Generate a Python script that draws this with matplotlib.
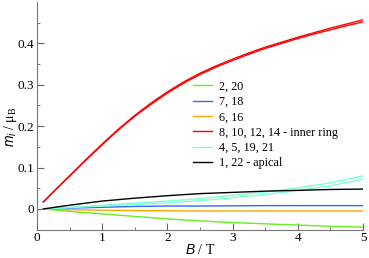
import numpy as np
import matplotlib
matplotlib.use("Agg")
import matplotlib.pyplot as plt

plt.rcParams['font.family'] = ['Liberation Serif', 'DejaVu Serif']
plt.rcParams['mathtext.fontset'] = 'custom'
plt.rcParams['mathtext.rm'] = 'Liberation Serif'
plt.rcParams['mathtext.it'] = 'Liberation Sans:italic'

# magnetic field B / T
B = [0.1, 0.5, 1.0, 1.5, 2.0, 2.5, 3.0, 3.5, 4.0, 4.5, 5.0]
B_fine = [0.1, 0.25, 0.5, 0.75, 1.0, 1.25, 1.5, 1.75, 2.0, 2.25, 2.5,
          2.75, 3.0, 3.25, 3.5, 3.75, 4.0, 4.25, 4.5, 4.75, 5.0]

# local moments m_i / mu_B
m_2_20 = [0.0, -0.006, -0.012, -0.018, -0.024, -0.029, -0.033, -0.036, -0.039, -0.042, -0.044]
m_7_18 = [0.0, 0.002, 0.004, 0.006, 0.007, 0.007, 0.0075, 0.008, 0.008, 0.008, 0.008]
m_6_16 = [0.0, -0.002, -0.003, -0.004, -0.0045, -0.005, -0.005, -0.005, -0.005, -0.005, -0.005]
m_4_5_a = [0.0, 0.004, 0.009, 0.014, 0.019, 0.025, 0.033, 0.041, 0.051, 0.063, 0.080]
m_4_5_b = [0.0, 0.003, 0.007, 0.011, 0.015, 0.020, 0.027, 0.035, 0.044, 0.056, 0.072]
m_apical = [0.0, 0.009, 0.019, 0.026, 0.032, 0.037, 0.040, 0.043, 0.045, 0.047, 0.048]
m_ring_a = [0.017, 0.041, 0.080, 0.119, 0.157, 0.193, 0.226, 0.256, 0.283, 0.307,
            0.328, 0.346, 0.362, 0.377, 0.391, 0.403, 0.415, 0.426, 0.437, 0.447, 0.457]
m_ring_b = [0.017, 0.041, 0.079, 0.118, 0.155, 0.191, 0.224, 0.253, 0.280, 0.304,
            0.325, 0.343, 0.359, 0.374, 0.388, 0.400, 0.412, 0.423, 0.433, 0.443, 0.452]

fig = plt.figure(figsize=(3.69, 2.58), dpi=100)
ax = fig.add_axes([0.1, 0.11, 0.884, 0.882])

ax.plot(B, m_2_20, color='#66ee22', lw=1, label='2, 20')
ax.plot(B, m_7_18, color='#3366ff', lw=1, label='7, 18')
ax.plot(B, m_6_16, color='#ffa500', lw=1, label='6, 16')
ax.plot(B_fine, m_ring_a, color='#ff0000', lw=1, label='8, 10, 12, 14 - inner ring')
ax.plot(B_fine, m_ring_b, color='#ff0000', lw=1)
ax.plot(B, m_4_5_a, color='#7fffd4', lw=1, label='4, 5, 19, 21')
ax.plot(B, m_4_5_b, color='#7fffd4', lw=1)
ax.plot(B, m_apical, color='black', lw=1, label='1, 22 - apical')

ax.set_xlim(0, 5)
ax.set_ylim(-0.05, 0.5)
ax.set_xticks([0, 1, 2, 3, 4, 5])
ax.set_xticks(np.arange(0.5, 5, 1.0), minor=True)
ax.set_yticks([0, 0.1, 0.2, 0.3, 0.4])
ax.set_yticklabels(['0', '0.1', '0.2', '0.3', '0.4'])
ax.set_yticks(np.arange(-0.05, 0.5, 0.1), minor=True)
ax.tick_params(which='both', direction='in', colors='#666666', labelcolor='black',
               labelsize=9.5, pad=2)
ax.tick_params(which='major', length=5)
ax.tick_params(which='minor', length=2.5)

for s in ['top', 'right']:
    ax.spines[s].set_visible(False)
for s in ['left', 'bottom']:
    ax.spines[s].set_color('#777777')

ax.set_xlabel(r'$B$ / T', fontsize=10, labelpad=-1)
ax.set_ylabel(r'$m_i$ / $\mathrm{\mu_B}$', fontsize=10)
ax.yaxis.set_label_coords(-0.055, 0.45)

ax.legend(loc='upper left', bbox_to_anchor=(0.48, 0.655), frameon=False,
          fontsize=8.7, handlelength=1.5, handletextpad=0.6, labelspacing=0.28,
          borderaxespad=0, borderpad=0)

plt.savefig('out.png', dpi=100)
